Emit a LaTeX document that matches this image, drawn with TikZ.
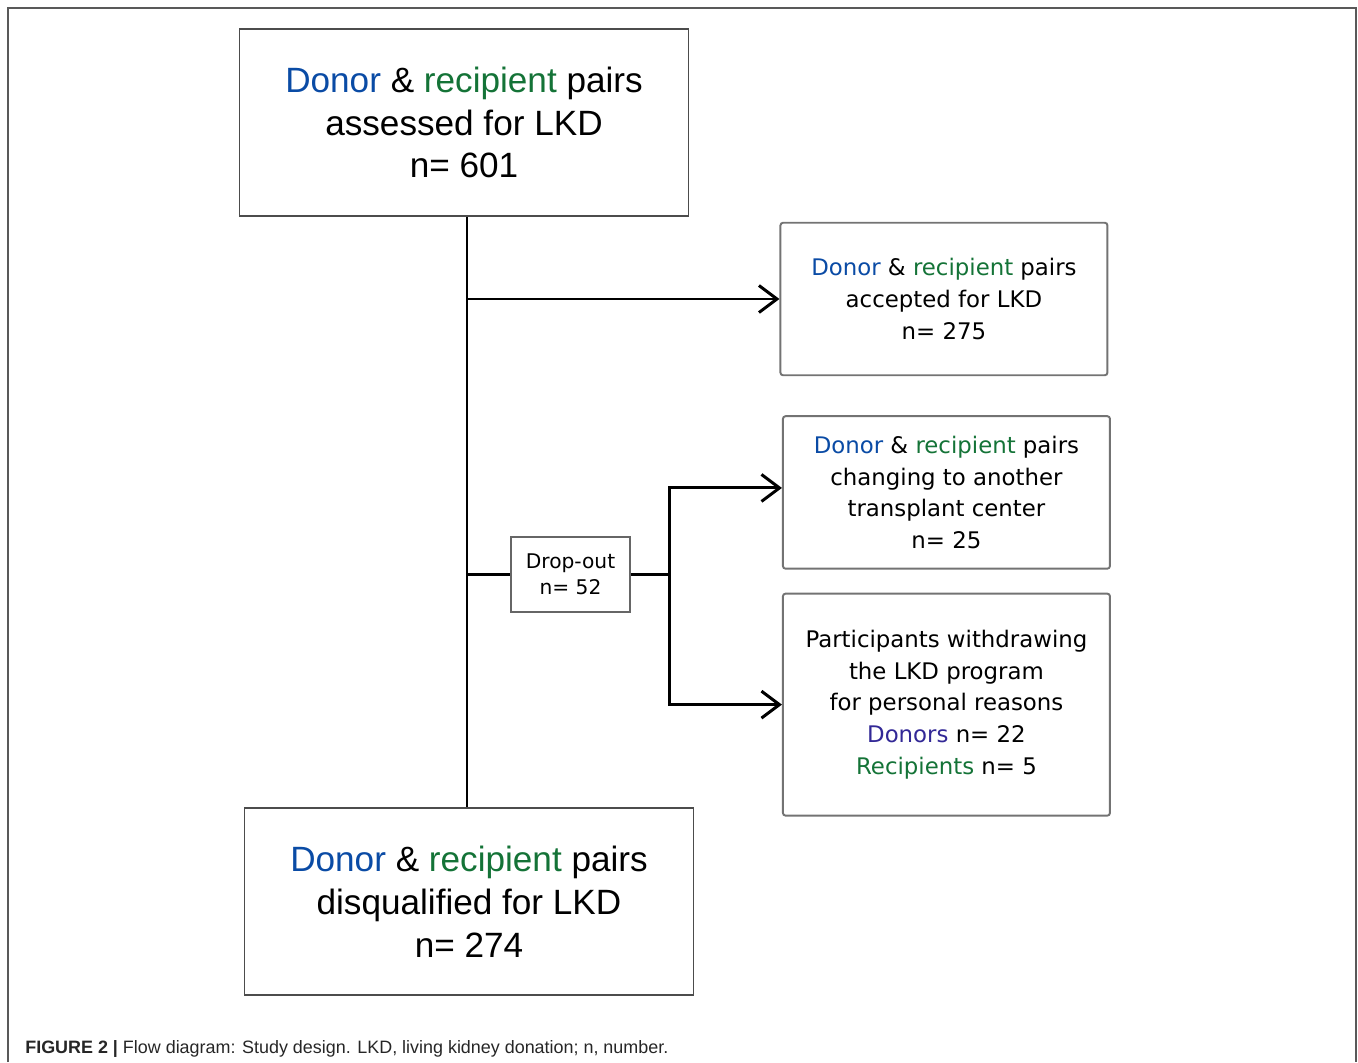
\documentclass[tikz,border=0pt]{standalone}
\usepackage{fontspec}
\setmainfont{Liberation Sans}
\newfontfamily\boxfont{DejaVu Sans}
\usetikzlibrary{positioning,arrows.meta}

\definecolor{donorblue}{RGB}{10,75,165}
\definecolor{recipgreen}{RGB}{20,115,55}
\definecolor{donorpurple}{RGB}{50,40,150}
\newcommand{\pairtext}{\textcolor{donorblue}{Donor} \& \textcolor{recipgreen}{recipient} pairs}

\begin{document}
\begin{tikzpicture}[
      node distance=0.78cm and 1.80cm,
      mainbox/.style={rectangle, draw=black!70, line width=1.1pt,
                      minimum width=8.98cm, minimum height=3.74cm,
                      align=center, font=\fontsize{20}{24.4}\selectfont},
      sidebox/.style={rectangle, rounded corners=1.5pt, draw=black!55, line width=1.1pt,
                      minimum width=6.54cm, minimum height=3.05cm,
                      align=center, font=\boxfont\fontsize{13}{18}\selectfont},
      dropbox/.style={rectangle, draw=black!60, line width=0.9pt,
                      minimum width=2.38cm, minimum height=1.5cm,
                      align=center, font=\boxfont\fontsize{11.5}{15}\selectfont},
      link/.style={line width=1.7pt},
      arrow/.style={link, -{Straight Barb[length=3.6mm,width=5.4mm]}}
    ]
    \useasboundingbox (0,0) rectangle (27.16,-21.24);
    % figure frame, open at the bottom
    \draw[black!65, line width=1.1pt] (0.16,-21.24) -- (0.16,-0.16) -- (27.12,-0.16) -- (27.12,-21.24);

    \node[mainbox] (assessed) at (9.28,-2.45) {\pairtext\\assessed for LKD\\n= 601};
    \node[mainbox, below=11.8cm of assessed, xshift=0.1cm] (disqualified) {\pairtext\\disqualified for LKD\\n= 274};
    \node[sidebox, right=of assessed, yshift=-3.53cm] (accepted) {\pairtext\\accepted for LKD\\n= 275};
    \node[sidebox, below=of accepted, xshift=0.05cm] (changing) {\pairtext\\changing to another\\transplant center\\n= 25};
    \node[sidebox, below=0.46cm of changing, minimum height=4.44cm] (withdrawing)
      {Participants withdrawing\\the LKD program\\for personal reasons\\
       \textcolor{donorpurple}{Donors} n= 22\\\textcolor{recipgreen}{Recipients} n= 5};
    \node[dropbox] (dropout) at (11.41,-11.49) {Drop-out\\n= 52};
    \coordinate[right=0.78cm of dropout.east] (fork);
    \coordinate (trunk) at ([xshift=0.06cm]assessed.south);

    \draw[link] (trunk) -- (trunk |- disqualified.north);
    \draw[arrow] (trunk |- accepted.west) -- (accepted.west);
    \draw[link] (trunk |- dropout.west) -- (dropout.west);
    \draw[link] (dropout.east) -- (fork);
    \draw[arrow] (fork) |- ([yshift=0.09cm]changing.west);
    \draw[arrow] (fork) |- (withdrawing.west);

    \node[anchor=base west, inner sep=0pt, font=\fontsize{10.2}{12}\selectfont, text=black!85] (caption) at (0.5,-21.06)
      {\textbf{FIGURE 2 |} Flow diagram: Study design. LKD, living kidney donation; n, number.};
  \end{tikzpicture}
\end{document}
